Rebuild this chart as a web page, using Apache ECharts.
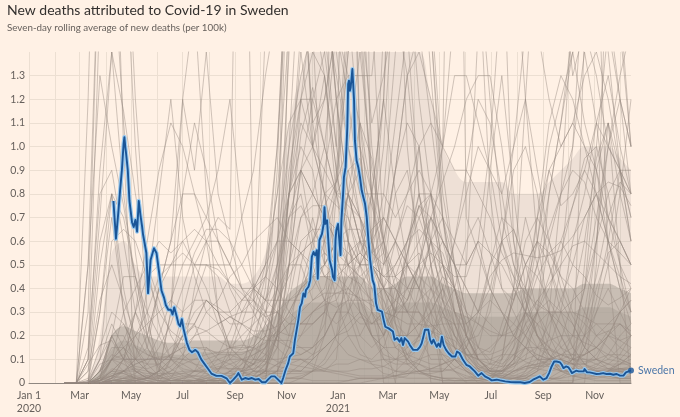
<!DOCTYPE html>
<html><head><meta charset="utf-8">
<script src="https://cdn.jsdelivr.net/npm/echarts@6/dist/echarts.min.js"></script>
<style>html,body{margin:0;padding:0;background:#fff1e5}#c{width:680px;height:417px}</style>
</head><body><div id="c"></div>
<script>
// ---- axis data ----
const dayCount = 714; // Jan 1 2020 .. Dec 14 2021
const tickDates = ['2020-01-01','2020-03-01','2020-05-01','2020-07-01','2020-09-01','2020-11-01','2021-01-01','2021-03-01','2021-05-01','2021-07-01','2021-09-01','2021-11-01'];
const tickLabels = ['Jan 1\n2020','Mar','May','Jul','Sep','Nov','Jan\n2021','Mar','May','Jul','Sep','Nov'];

// ---- Sweden (day index since Jan 1 2020, deaths per 100k) ----
const swedenDays = [100,103,106,108,110,112,113,114,115,117,119,122,124,126,128,130,132,134,135,137,139,141,144,148,151,154,157,160,162,165,168,170,172,175,177,179,181,183,187,190,193,197,200,204,208,212,216,222,228,234,238,242,246,248,252,256,260,264,268,272,276,280,283,287,291,295,299,301,304,307,309,313,315,317,319,321,323,325,327,328,331,333,335,337,339,341,342,344,347,349,350,351,353,354,356,359,360,362,363,364,366,368,369,370,372,373,375,377,378,379,380,381,383,385,386,388,390,392,394,396,398,400,402,404,407,409,411,413,418,420,422,426,428,431,433,436,437,439,441,443,445,447,449,451,453,455,457,460,463,465,467,469,473,475,477,479,481,483,485,487,489,491,494,497,501,505,507,510,512,514,518,522,528,532,536,540,544,548,554,558,564,570,576,582,587,593,597,601,605,607,609,613,616,619,622,624,625,627,629,631,633,636,639,641,643,645,648,651,653,657,658,661,664,668,672,676,680,684,688,692,696,700,704,707,709,713];
const swedenValues = [.77,.61,.73,.82,.90,1.01,1.04,1.0,.97,.90,.77,.68,.66,.69,.64,.77,.71,.66,.63,.59,.55,.38,.52,.57,.55,.47,.39,.36,.33,.31,.31,.29,.32,.28,.25,.24,.27,.23,.17,.14,.13,.14,.13,.10,.08,.06,.04,.03,.03,.02,0,.014,.03,.042,.014,.021,.017,.021,.014,.017,.003,.003,.014,.028,.028,.014,0,.021,.056,.084,.112,.126,.183,.225,.267,.322,.337,.379,.365,.393,.407,.435,.534,.554,.54,.562,.441,.604,.631,.673,.744,.673,.688,.681,.52,.478,.449,.435,.604,.646,.673,.681,.541,.688,.80,.871,.913,1.082,1.265,1.279,1.236,1.25,1.328,1.194,1.026,.941,.913,.871,.815,.786,.758,.702,.604,.52,.435,.414,.337,.309,.302,.267,.238,.231,.238,.218,.183,.19,.183,.175,.19,.161,.19,.183,.175,.161,.167,.14,.146,.14,.153,.167,.195,.225,.225,.183,.167,.183,.175,.153,.167,.153,.196,.161,.14,.126,.112,.112,.133,.126,.133,.098,.077,.07,.049,.031,.042,.028,.021,.011,.014,.011,.007,.004,.003,.003,0,.004,.014,.021,.028,.021,.014,.021,.042,.07,.091,.084,.091,.084,.087,.077,.063,.07,.066,.055,.042,.049,.052,.049,.045,.049,.059,.045,.045,.042,.038,.039,.042,.038,.039,.035,.038,.031,.031,.045,.042,.053];

// ---- other countries, sampled fortnightly (day index) ----
const greyDays = [42,56,70,84,98,112,126,140,154,168,182,196,210,224,238,252,266,280,294,308,322,336,350,364,378,392,406,420,434,448,462,476,490,504,518,532,546,560,574,588,602,616,630,644,658,672,686,700,713];
// envelopes of the dense mass of low-level countries, and of the mid-density haze
const coreBand = [0,0,0,.04,.14,.18, .16,.14,.13,.12,.12,.13, .13,.13,.13,.13,.15,.18, .22,.28,.32,.34,.34,.34, .34,.34,.3,.3,.32,.34, .34,.34,.32,.3,.28,.28, .28,.28,.28,.3,.3,.3, .3,.3,.32,.32,.32,.3, .28];
const denseBand = [0,0,.01,.06,.2,.24, .22,.2,.18,.17,.17,.18, .18,.18,.18,.18,.2,.24, .3,.38,.42,.45,.45,.45, .45,.45,.4,.4,.42,.45, .45,.45,.42,.4,.38,.38, .38,.38,.38,.4,.4,.4, .4,.4,.42,.42,.42,.4, .38];
const midBand = [0,0,.02,.2,.55,.6, .5,.45,.45,.45,.45,.45, .45,.45,.42,.42,.45,.55, .75,1.1,1.3,1.4,1.4,1.4, 1.4,1.4,1.4,1.4,1.4,1.4, 1.4,1.2,1.0,.9,.85,.85, .85,.85,.8,.8,.8,.85, .9,.95,1.0,1.0,1.0,.95, .9];

const c01 = [0,0,.1,1.6,2.8,2.2, 1.2,.5,.25,.1,.06,.05, .05,.07,.06,.06,.1,.25, .9,2.2,1.9,1.1,.8,.75, .7,.55,.5,.45,.5,.6, .75,.6,.45,.3,.2,.1, .05,.05,.08,.1,.12,.1, .12,.15,.25,.45,.7,.85, .8];
const c02 = [0,0,.3,2.0,1.9,1.1, .55,.2,.05,.01,.02,.03, .06,.12,.22,.35,.42,.35, .45,.7,.8,.55,.45,.5, .8,1.1,.95,.6,.3,.15, .18,.2,.15,.1,.08,.06, .08,.25,.4,.4,.3,.2, .1,.06,.04,.05,.06,.08, .12];
const c03 = [0,0,.5,1.3,1.0,.75, .45,.25,.1,.06,.03,.02, .01,.02,.02,.03,.04,.06, .25,.6,1.05,1.25,1.0,.8, .75,.7,.55,.5,.6,.75, .7,.55,.4,.25,.12,.06, .04,.03,.04,.07,.08,.09, .08,.06,.06,.08,.1,.15, .2];
const c04 = [0,0,.1,.9,1.4,1.15, .8,.5,.35,.2,.12,.08, .04,.02,.02,.02,.03,.08, .2,.35,.6,.65,.65,.85, 1.4,1.8,1.0,.55,.25,.12, .05,.03,.02,.01,.01,.02, .03,.06,.12,.15,.15,.18, .2,.2,.2,.25,.2,.18, .2];
const c05 = [0,0,1.2,3,4,2, 1,.3,0,0,0,0, 0,0,0,0,0,0, .5,2.5,3,2,1.4,1, 2.5,1,.5,1.5,2.2,1, .5,0,0,0,0,0, 0,0,0,0,0,0, 0,0,.2,.6,1.1,.5, 0];
const c06 = [0,0,.1,.7,1.4,.8, .4,.15,.07,.04,.02,.01, .02,.03,.05,.08,.12,.15, .35,.8,.9,.6,.45,.45, .5,.55,.5,.45,.45,.5, .55,.45,.35,.25,.12,.07, .05,.04,.08,.12,.15,.12, .08,.06,.05,.06,.08,.12, .2];
const c07 = [0,0,.15,.8,.9,.6, .3,.15,.06,.02,.01,.01, .01,.02,.03,.05,.08,.2, .35,.5,.5,.35,.4,.6, .6,.5,.4,.35,.25,.2, .2,.18,.15,.12,.08,.03, .02,.02,.05,.07,.06,.05, .06,.1,.12,.2,.25,.3, .35];
const c08 = [0,0,0,.1,.6,.65, .6,.45,.3,.22,.18,.25, .35,.32,.28,.25,.22,.22, .24,.28,.4,.6,.8,.85, 1.0,1.0,.8,.6,.4,.3, .25,.22,.2,.18,.12,.1, .08,.1,.18,.3,.45,.55, .6,.5,.45,.37,.33,.36, .4];
const c09 = [0,0,0,.02,.1,.18, .3,.45,.5,.5,.5,.5, .5,.48,.42,.35,.35,.28, .22,.2,.25,.3,.33,.35, .45,.5,.5,.55,.9,1.3, 1.4,1.2,1.0,.9,.9,.8, .7,.55,.45,.38,.33,.3, .25,.2,.17,.15,.1,.09, .07];
const c10 = [0,0,0,0,.1,.3, .4,.5,.6,.55,.6,.65, .6,.7,.65,3.5,.35,.25, .18,.18,.15,.15,.2,.3, .35,.6,.8,.8,.7,.8, 1.0,1.1,1.0,4,.7,.55, .4,.3,.25,.2,.15,.14, .12,.1,.09,.1,.12,.12, .11];
const c11 = [0,0,0,.01,.03,.05, .1,.4,.8,1.2,.7,.45, .3,.25,.28,.25,.2,.18, .18,.15,.15,.12,.15,.2, .22,.28,.25,.3,.35,.4, .5,.55,.5,.45,.45,.6, .4,.3,.2,.15,.1,.08, .08,.1,.12,.15,.22,.25, .2];
const c12 = [0,0,0,.01,.05,.1, .2,.3,.45,.5,.55,.5, .5,.5,.42,.38,.32,.28, .3,.35,.38,.45,.5,.6, .8,.9,.75,.55,.45,.3, .3,.22,.18,.15,.12,.12, .15,.2,.35,.5,.6,.55, .45,.3,.25,.2,.22,.18, .15];
const c13 = [0,0,0,0,.01,.02, .04,.08,.15,.25,.4,.55, .65,.65,.6,.5,.4,.35, .35,.35,.35,.4,.5,.6, .65,.65,.5,.4,.3,.35, .5,.7,.85,1.0,1.2,1.3, 1.3,1.0,.6,.35,.2,.12, .08,.06,.05,.05,.05,.06, .06];
const c14 = [0,0,0,0,.01,.02, .02,.03,.05,.07,.12,.2, .3,.35,.45,.5,.6,.65, .7,.6,.55,.45,.35,.32, .35,.35,.35,.3,.28,.35, .5,.8,1.0,1.3,1.3,1.1, .9,.6,.4,.3,.25,.12, .06,.04,.04,.04,.05,.05, .06];
const c15 = [0,0,0,0,.02,.1, .3,.2,.4,.6,1.2,.9, 1.4,.8,.6,.4,.3,.2, .15,.1,.1,.1,.15,.2, .5,.6,.5,.4,.3,.3, .5,.7,.6,.5,.5,.6, .55,.5,.4,.3,.2,.15, .1,.08,.06,.05,.05,.08, .1];
const c16 = [0,0,0,.01,.06,.05, .02,.01,.01,.01,.01,0, .01,.01,.02,.05,.15,.4, 1.0,2.0,1.8,1.1,1.2,1.5, 1.3,1.3,1.3,1.8,2.2,1.5, .8,.5,.3,.15,.07,.03, .02,.01,.02,.02,.02,.02, .02,.05,.15,.35,.6,.9, .8];
const c17 = [0,0,0,0,.01,.01, 0,0,0,0,0,0, 0,0,0,.01,.03,.08, .2,.4,.7,.8,1.0,1.5, 2.0,1.6,1.1,1.3,1.6,1.3, .8,.5,.25,.1,.05,.02, .01,0,.01,.01,.02,.05, .1,.2,.4,.7,1.0,1.3, 1.5];
const c18 = [0,0,0,.01,.1,.15, .1,.05,.03,.01,.01,0, .01,.01,.02,.08,.2,.35, .6,1.0,1.3,1.5,1.6,1.3, 1.0,.8,.8,1.2,2.2,2.8, 2.4,1.5,.7,.3,.1,.04, .02,.01,.01,.01,.01,.02, .05,.1,.3,.6,1.0,1.2, 1.0];
const c19 = [0,0,0,.01,.03,.05, .06,.05,.03,.05,.1,.15, .15,.12,.12,.12,.15,.2, .4,1.0,1.9,2.2,1.8,1.2, .8,.6,.55,.8,1.4,2.0, 2.2,1.5,.8,.5,.3,.1, .05,.05,.07,.1,.3,.8, 1.1,1.5,2.3,2.6,2.2,1.6, 1.0];
const c20 = [0,0,0,.03,.1,.1, .1,.08,.08,.12,.15,.2, .22,.25,.28,.3,.35,.45, .6,.8,.9,.8,.7,.6, .5,.4,.35,.4,.6,.8, .9,.8,.5,.3,.15,.06, .03,.03,.02,.03,.08,.3, .8,1.6,2.3,2.0,1.4,.9, .6];
const c21 = [0,0,0,.01,.03,.05, .05,.04,.04,.04,.04,.03, .02,.02,.03,.05,.06,.12, .4,.9,1.2,1.2,1.0,.8, .8,.7,.55,.6,.9,1.3, 1.5,1.1,.7,.4,.2,.08, .04,.02,.01,.01,.01,.01, .03,.06,.15,.3,.5,.8, 1.2];
const c22 = [0,0,.01,.1,.2,.1, .05,.02,.01,.01,.01,.01, .01,.01,.01,.02,.05,.1, .4,1.4,2.2,2.0,1.6,1.4, 1.0,.7,.6,.4,.3,.3, .3,.25,.2,.1,.05,.02, .01,.01,.01,.02,.05,.1, .15,.2,.4,.9,1.1,.8, .6];
const c23 = [0,0,0,.02,.05,.04, .02,0,0,.01,.02,.05, .08,.1,.12,.1,.08,.1, .2,.8,1.5,1.8,1.8,1.2, .6,.3,.2,.2,.3,.6, .8,.8,.5,.25,.1,.05, .02,.02,.05,.08,.1,.15, .3,.6,.8,1.1,1.3,1.0, .8];
const c24 = [0,0,0,.05,.2,.2, .1,.15,.4,.6,.8,.8, .6,.5,.5,.4,.4,.5, .8,1.5,2.0,2.1,1.7,1.2, .8,.6,.6,1.2,2.5,3, 2.6,1.6,.9,.5,.2,.1, .05,.05,.1,.3,.6,.9, 1.0,1.1,1.0,.8,.7,.6, .5];
const c25 = [0,0,0,.05,.2,.1, 0,0,0,.1,.3,.5, .6,.6,.5,.7,.9,1.3, 1.6,2.2,2.5,1.8,1.5,1.6, 1.4,1.5,2.0,2.8,2.5,1.8, 1.2,.8,.4,.2,.1,.05, .05,.1,.4,1.2,2.0,2.2, 1.8,1.3,1.5,1.3,1.0,.9, .8];
const c26 = [0,0,0,0,0,0, 0,0,0,0,0,0, 0,0,.01,.03,.1,.2, .4,.8,1.2,1.6,1.3,.8, .5,.3,.2,.15,.15,.2, .35,.5,.6,.5,.4,.3, .4,.6,1.0,1.5,1.5,1.2, 1.0,1.1,1.3,1.4,1.2,.9, .7];
const c27 = [0,0,0,0,.02,.05, .1,.2,.4,.5,.6,.5, .4,.25,.15,.15,.25,.45, .8,1.1,1.2,1.0,.8,.55, .35,.2,.15,.2,.35,.55, .7,.8,.7,.5,.3,.15, .1,.08,.12,.2,.3,.4, .55,.75,.95,1.0,.8,.5, .3];
const c28 = [0,0,0,0,.01,.05, .08,.1,.11,.11,.1,.08, .07,.06,.06,.06,.08,.12, .2,.25,.3,.35,.38,.38, .38,.36,.33,.3,.28,.25, .25,.24,.25,.25,.25,.3, .45,.52,.55,.54,.53,.54, .56,.62,.7,.8,.85,.83, .75];
const c29 = [0,0,0,0,.01,.02, .03,.03,.03,.04,.05,.05, .05,.06,.08,.1,.12,.15, .22,.3,.4,.45,.45,.42, .37,.3,.25,.28,.35,.55, .75,.8,.6,.4,.25,.1, .06,.05,.05,.06,.07,.1, .18,.35,.6,.95,1.1,.9, .7];
const c30 = [0,0,.08,.16,.18,.1, .07,.06,.08,.12,.2,.24, .22,.18,.15,.14,.16,.25, .35,.45,.55,.5,.35,.18, .12,.1,.09,.1,.1,.12, .2,.4,.5,.4,.2,.15, .13,.2,.35,.6,.7,.6, .4,.28,.2,.15,.12,.1, .08];
const c31 = [0,0,0,0,0,.01, .01,.02,.05,.1,.2,.35, .5,.45,.3,.18,.1,.1, .1,.11,.12,.15,.25,.5, .9,.95,.6,.3,.2,.12, .1,.08,.08,.1,.15,.25, .5,.7,.65,.5,.45,.35, .25,.15,.08,.05,.04,.04, .06];
const c32 = [0,0,0,0,.01,.01, 0,0,0,0,0,0, 0,0,.01,.03,.08,.15, .25,.35,.4,.45,.5,.45, .4,.35,.3,.25,.2,.2, .4,.6,.7,.6,.5,.6, 1.0,1.7,1.9,1.2,.6,.3, .15,.08,.04,.03,.02,.02, .02];
const c33 = [0,0,0,0,0,0, 0,0,0,0,.01,.05, .15,.1,.08,.05,.02,.02, .02,.02,.02,.05,.2,.8, 1.4,1.6,.8,.3,.15,.1, .08,.05,.05,.1,.5,1.5, 3,2,.6,.25,.15,.1, .05,.03,.02,.02,.03,.02, .02];
const c34 = [0,0,0,0,0,0, 0,0,0,0,0,0, .01,.05,.15,.3,.4,.35, .3,.2,.2,.25,.3,.25, .3,.4,.5,.7,1.1,1.5, 1.9,2.1,2.2,2.3,2.1,1.8, 1.2,.7,.5,.35,.2,.12, .08,.05,.04,.05,.04,.04, .05];
const c35 = [0,0,0,0,0,.01, .02,.02,.03,.05,.08,.1, .12,.13,.15,.16,.15,.12, .09,.08,.07,.06,.05,.04, .03,.02,.02,.02,.02,.03, .08,.2,.28,.25,.15,.07, .04,.04,.03,.03,.03,.02, .02,.03,.04,.03,.03,.02, .03];
const c36 = [0,0,0,0,.01,.01, .01,.02,.02,.02,.03,.03, .03,.04,.04,.04,.05,.04, .04,.04,.04,.05,.06,.08, .08,.1,.08,.07,.05,.04, .04,.04,.05,.06,.09,.15, .35,.6,.65,.5,.3,.15, .07,.03,.02,.01,.01,.01, .01];
const c37 = [0,0,0,.01,.04,.04, .02,.01,0,0,0,0, 0,0,0,.01,.02,.05, .2,.5,.9,1.2,1.4,1.5, 1.2,.8,.6,.4,.35,.3, .35,.4,.3,.2,.15,.08, .05,.05,.1,.2,.3,.45, .6,.75,.9,1.1,1.0,.9, .6];
const c38 = [0,0,0,0,.01,.02, .01,0,0,0,0,0, 0,0,0,0,.01,.02, .05,.15,.35,.55,.9,1.2, 1.3,1.1,.6,.45,.4,.35, .45,.6,.55,.4,.2,.1, .05,.02,.02,.02,.05,.2, .5,1.0,1.8,2.2,1.6,1.2, .8];
const c39 = [0,0,.01,.15,.3,.25, .15,.12,.1,.1,.08,.05, .04,.03,.03,.05,.08,.15, .3,.5,.7,.75,.75,.85, 1.5,2.7,1.6,.6,.25,.08, .04,.03,.02,.02,.02,.03, .06,.12,.12,.09,.07,.07, .05,.03,.03,.03,.05,.08, .12];
const c40 = [0,0,.02,.3,.8,.7, .45,.2,.08,.03,.01,.01, 0,0,.01,.02,.03,.04, .08,.1,.1,.07,.05,.1, .6,1.1,.8,.4,.2,.1, .05,.03,.02,.02,.01,.01, .01,.02,.05,.07,.08,.1, .1,.08,.12,.15,.2,.15, .12];
const c41 = [0,0,0,.05,.12,.1, .1,.1,.2,.35,.5,.6, .7,.6,.5,.4,.35,.3, .3,.25,.25,.3,.35,.5, .8,.6,.4,.25,.15,.12, .15,.2,.3,.4,.6,.7, .55,.4,.35,.5,.6,.5, .35,.25,.15,.1,.08,.08, .08];
const c42 = [0,0,0,.1,.25,.15, .05,.02,.01,0,0,0, 0,0,0,.01,.02,.05, .15,.5,1.2,1.4,1.3,.9, .6,.35,.25,.25,.3,.4, .4,.35,.2,.12,.06,.03, .02,.01,.01,.02,.05,.08, .1,.12,.2,.4,.55,.6, .5];
const c43 = [0,0,0,.02,.03,.02, .01,0,0,0,0,0, .01,.02,.05,.05,.06,.08, .15,.5,.9,1.0,.8,.5, .3,.25,.25,.3,.45,.6, .75,.7,.5,.3,.2,.1, .06,.07,.15,.25,.3,.3, .3,.35,.4,.6,.8,.9, .9];
const c44 = [0,0,0,0,0,0, 0,0,0,0,0,.01, .03,.06,.1,.15,.15,.2, .2,.25,.25,.25,.3,.5, 1.0,1.4,.9,.6,.45,.4, .3,.2,.12,.07,.05,.03, .03,.04,.1,.15,.1,.07, .05,.05,.04,.04,.04,.05, .04];
const c45 = [0,0,0,.02,.1,.15, .2,.25,.3,.35,.3,.35, .35,.3,.3,.35,.4,.5, .6,.6,.55,.6,.7,.65, .5,.45,.5,.6,.9,1.1, 1.0,.6,.35,.15,.08,.04, .03,.03,.06,.15,.3,.6, .8,1.0,1.4,1.1,.7,.5, .4];
const c46 = [0,0,0,.03,.1,.12, .06,.03,.02,.1,.25,.25, .12,.05,.02,.02,.02,.05, .2,.7,.9,.8,.7,.6, .55,.5,.6,.7,.6,.5, .4,.25,.1,.05,.02,.02, .02,.05,.15,.4,.7,.9, .75,.8,.9,.8,.6,.4, .25];
const c47 = [0,0,0,0,0,0, 0,0,0,0,0,0, 0,0,0,0,0,0, 0,1.5,2.5,1.5,.5,3, 6,4,.5,0,0,0, 0,0,0,0,0,0, 0,0,0,0,0,0, 0,0,1.5,2,.5,0, 0];
const c48 = [0,0,.5,2,2.5,1, 0,0,0,0,0,0, 0,0,0,0,.3,1.5, 2.5,3,2,1,1.2,1.5, 2,1.5,.8,.5,.6,.4, .5,.3,0,0,0,0, 0,0,0,0,0,0, 0,0,.5,1,1.5,1.5, 1];
const c49 = [0,0,0,.08,.1,.08, .05,.02,.01,0,0,0, 0,0,0,0,.01,.01, .02,.04,.08,.12,.2,.3, .3,.15,.08,.04,.03,.02, .02,.02,.01,.01,.01,.01, 0,0,0,.01,.02,.02, .01,.01,.02,.03,.05,.1, .15];
const c50 = [0,0,0,0,0,0, 0,0,0,0,0,0, 0,0,0,0,0,0, 0,0,.02,.05,.1,.2, .3,.5,.8,1.2,.8,.5, .4,.6,1.0,1.6,2.5,1.8, .8,.4,.3,.2,.1,.1, .1,.05,.05,.05,.05,.05, .05];
const c51 = [0,0,0,0,0,0, .01,.02,.05,.1,.2,.25, .35,.3,.15,.1,.05,.05, .05,.05,.05,.1,.15,.2, .25,.3,.2,.15,.1,.1, .15,.3,.4,.6,.9,1.2, 1.1,.8,.5,.4,.6,1.0, 1.2,1.4,1.1,.9,.6,.4, .3];
const c52 = [0,0,0,0,0,0, 0,0,0,0,0,0, 0,0,0,0,0,0, 0,0,0,0,0,0, 0,0,.01,.02,.03,.05, .1,.2,.35,.6,.8,1.0, .9,.8,1.0,1.2,.9,.6, .45,.4,.3,.2,.15,.1, .08];
const c53 = [0,0,0,.05,.15,.15, .05,.02,.05,.3,.8,1.1, .9,.6,.4,.3,.3,.5, 1.0,1.8,2.3,2.0,1.5,1.0, .7,.5,.6,1.0,1.8,2.4, 2.0,1.3,.7,.4,.2,.1, .05,.05,.08,.3,.7,1.1, 1.3,1.2,1.0,.9,.7,.6, .5];
const c54 = [0,0,0,.5,.8,.3, 0,0,0,0,0,0, 0,0,0,0,0,0, .5,2,3.5,2.5,1.5,2.5, 3,1,.5,.2,0,.5, 1,.5,0,0,0,0, 0,0,0,0,0,0, 0,0,0,.5,2,2.5, 1.5];
const c55 = [0,0,0,0,0,0, 0,0,0,0,0,0, 0,.01,.05,.1,.08,.05, .03,.02,.02,.01,.01,.01, .01,.02,.02,.02,.05,.1, .2,.3,.4,.3,.25,.3, .35,.3,.2,.3,.5,.8, 1.1,1.4,1.6,1.8,1.5,1.2, 1.0];
const c56 = [0,0,0,0,.02,.1, .3,.6,.9,1.1,1.0,.8, .7,.9,1.2,.7,.4,.3, .2,.15,.12,.15,.2,.3, .4,.5,.5,.4,.4,.5, .6,.7,.6,.5,.4,.3, .25,.2,.2,.15,.12,.1, .1,.08,.08,.06,.06,.06, .06];
const c57 = [0,0,0,0,0,0, 0,0,0,0,0,0, 0,0,.01,.05,.15,.3, .5,.8,1.0,.9,.6,.35, .2,.12,.1,.15,.3,.55, .8,.6,.35,.2,.12,.1, .1,.12,.2,.3,.25,.2, .15,.12,.12,.15,.2,.25, .2];
const c58 = [0,0,0,0,.01,.01, 0,0,0,0,0,.01, .02,.05,.12,.25,.4,.45, .4,.3,.25,.25,.3,.4, .55,.6,.5,.35,.2,.1, .05,.02,.01,.01,.01,.01, .02,.04,.1,.25,.35,.3, .2,.1,.06,.04,.05,.06, .05];
const c59 = [0,0,0,.01,.02,.03, .02,.02,.02,.03,.04,.05, .06,.08,.1,.1,.1,.09, .07,.06,.05,.05,.05,.05, .05,.06,.06,.07,.1,.15, .2,.25,.2,.15,.12,.12, .12,.14,.18,.22,.3,.35, .3,.25,.15,.1,.06,.05, .04];
const c60 = [0,0,0,.02,.2,.45, .45,.3,.2,.1,.05,.02, .01,.01,.01,.01,.02,.05, .08,.12,.2,.3,.35,.38, .4,.35,.2,.1,.08,.08, .1,.12,.12,.1,.07,.04, .02,.02,.02,.03,.06,.1, .12,.12,.1,.08,.06,.06, .07];
const c61 = [0,0,.05,.6,.8,.4, .15,.05,.02,.01,.01,.01, .01,.01,.01,.02,.02,.05, .2,.8,1.1,1.0,.9,.8, .6,.4,.2,.12,.1,.08, .08,.06,.06,.05,.03,.02, .01,.01,.02,.04,.07,.08, .07,.05,.05,.07,.12,.2, .25];
const c62 = [0,0,0,0,0,.01, .01,.02,.05,.3,1.2,1.6, .8,.3,.1,.05,.03,.03, .05,.08,.1,.08,.06,.05, .04,.03,.03,.03,.03,.04, .05,.06,.08,.1,.15,.3, .5,.6,.45,.3,.2,.15, .12,.1,.1,.1,.08,.06, .05];
const c63 = [0,0,0,0,.01,.01, .01,0,0,0,0,0, 0,0,0,0,0,0, 0,0,0,0,0,0, .01,.02,.02,.02,.03,.04, .05,.06,.08,.12,.18,.2, .3,.6,.9,1.0,.8,.5, .3,.15,.08,.04,.03,.02, .02];
const c64 = [0,0,0,.02,.2,.25, .15,.08,.03,.01,.01,.01, .01,.01,.01,.01,.01,.03, .05,.15,.35,.45,.6,.8, .9,.7,.45,.3,.2,.2, .25,.3,.3,.2,.12,.06, .02,.01,.01,.01,.02,.05, .08,.08,.08,.12,.2,.3, .4];
const c65 = [0,0,0,.01,.05,.1, .1,.1,.1,.12,.15,.15, .14,.13,.13,.13,.14,.17, .22,.3,.4,.5,.55,.5, .45,.42,.35,.25,.2,.2, .25,.35,.45,.4,.25,.15, .08,.07,.08,.15,.25,.3, .3,.3,.28,.25,.25,.25, .22];
const c66 = [0,0,0,.3,.7,.3, .1,.05,0,0,0,0, .05,.1,.05,.02,.05,.1, .3,.8,1.4,1.0,1.3,.9, .6,.5,.3,.2,.4,.3, .2,.1,.1,.05,0,0, 0,0,0,.05,.1,.1, .05,.1,.2,.3,.4,.3, .2];
const c67 = [0,0,0,.05,.1,.05, 0,0,0,0,0,0, 0,0,0,0,0,0, .05,.2,.5,.7,.5,.6, .8,.7,.3,.2,.3,.5, .4,.3,.2,.1,.05,0, 0,.1,.4,.7,.5,.3, .2,.1,.08,.1,.2,.3, .35];
const c68 = [0,0,0,.01,.05,.05, .03,.01,0,0,0,0, 0,0,0,0,0,.01, .01,.02,.03,.05,.08,.15, .2,.2,.3,.5,.8,.9, .6,.4,.25,.15,.08,.05, .02,.02,.03,.05,.15,.25, .35,.5,.7,.8,.6,.45, .3];
const c69 = [0,0,0,0,0,0, 0,0,0,.02,.1,.4, .6,.3,.15,.1,.05,.05, .05,.05,.05,.1,.3,.9, 1.6,1.0,.3,.1,.05,.05, .05,.05,.05,.1,.2,.4, .9,1.3,.8,.4,.2,.1, .05,.05,.04,.04,.04,.04, .04];
const c70 = [0,0,.05,.35,.5,.35, .2,.12,.1,.15,.2,.3, .35,.3,.25,.25,.28,.35, .5,.7,.75,.65,.55,.5, .5,.55,.65,.7,.6,.5, .45,.4,.35,.3,.28,.25, .22,.2,.22,.28,.35,.42, .5,.58,.6,.55,.5,.45, .42];
const c71 = [0,0,0,0,.02,.05, .08,.1,.1,.1,.1,.1, .1,.12,.15,.2,.25,.3, .4,.5,.55,.6,.6,.55, .5,.45,.4,.4,.5,.6, .65,.6,.5,.4,.3,.25, .2,.2,.25,.35,.5,.65, .8,.9,.85,.7,.6,.55, .5];

const otherCountries = [c01,c02,c03,c04,c05,c06,c07,c08,c09,c10,c11,c12,c13,c14,c15,c16,c17,c18,c19,c20,c21,c22,c23,c24,c25,c26,c27,c28,c29,c30,c31,c32,c33,c34,c35,c36,c37,c38,c39,c40,c41,c42,c43,c44,c45,c46,c47,c48,c49,c50,c51,c52,c53,c54,c55,c56,c57,c58,c59,c60,c61,c62,c63,c64,c65,c66,c67,c68,c69,c70,c71];

// ---- build ----
const categories = [];
for (let i = 0; i < dayCount; i++) {
  categories.push(new Date(Date.UTC(2020, 0, 1 + i)).toISOString().slice(0, 10));
}
const pairs = (days, vals) => days.map((d, i) => [d, vals[i]]).filter(p => p[1] !== undefined);

const GREY = 'rgba(150,138,128,0.46)';
const MASS = 'rgb(172,162,153)';
const BLUE = '#1a5597';
const series = [];
const band = (vals, op) => ({ type:'line', data:pairs(greyDays, vals), symbol:'none', silent:true, smooth:0.4,
  lineStyle:{width:0}, areaStyle:{color:MASS, opacity:op}, z:1 });
series.push(band(midBand, 0.2));
series.push(band(denseBand, 0.55));
series.push(band(coreBand, 0.55));
otherCountries.forEach(arr => series.push({ type:'line', data:pairs(greyDays, arr), symbol:'none', silent:true,
  lineStyle:{color:GREY, width:1}, z:2 }));
const swedenData = pairs(swedenDays, swedenValues);
series.push({ type:'line', data:swedenData, symbol:'none', silent:true,
  lineStyle:{color:'rgba(150,200,240,0.95)', width:4.2, join:'round'}, z:3 });
series.push({ type:'line', data:swedenData, symbol:'none', silent:true,
  lineStyle:{color:BLUE, width:1.9, join:'round'}, z:4 });
series.push({ type:'scatter', data:[swedenData[swedenData.length - 1]], symbolSize:6, silent:true,
  itemStyle:{color:BLUE}, z:5,
  label:{show:true, position:'right', distance:4, formatter:'Sweden', color:BLUE, fontSize:10.5, fontFamily:'Lato'} });

const gridColors = Array(15).fill('#ecdfd2'); gridColors[14] = 'rgba(0,0,0,0)';

const chart = echarts.init(document.getElementById('c'), null, {renderer:'canvas'});
chart.setOption({
  backgroundColor:'#fff1e5',
  animation:false,
  title:{ text:'New deaths attributed to Covid-19 in Sweden', subtext:'Seven-day rolling average of new deaths (per 100k)',
    left:7, top:3, itemGap:6, padding:0,
    textStyle:{fontFamily:'Lato', fontSize:14, fontWeight:'normal', color:'#33302e'},
    subtextStyle:{fontFamily:'Lato', fontSize:9.8, color:'#66605c'} },
  grid:{ left:29, right:49, top:52, bottom:34 },
  xAxis:{ type:'category', data:categories, boundaryGap:false,
    axisLine:{show:true, lineStyle:{color:'#8f8780', width:1}}, axisTick:{show:false},
    axisLabel:{ interval:(i, v) => tickDates.indexOf(v) >= 0, formatter:v => tickLabels[tickDates.indexOf(v)] || '',
      color:'#66605c', fontSize:10.5, fontFamily:'Lato', lineHeight:13, margin:6 },
    splitLine:{ show:true, interval:(i, v) => v.slice(8) === '01', lineStyle:{color:'#ecdfd2', width:1} } },
  yAxis:{ type:'value', min:0, max:1.4, interval:0.1,
    axisLine:{show:false}, axisTick:{show:false},
    axisLabel:{ formatter:v => v === 0 ? '0' : (v > 1.35 ? '' : v.toFixed(1)), color:'#66605c', fontSize:10.5, fontFamily:'Lato', margin:4 },
    splitLine:{ lineStyle:{color:gridColors, width:1} } },
  series:series
});
</script></body></html>
